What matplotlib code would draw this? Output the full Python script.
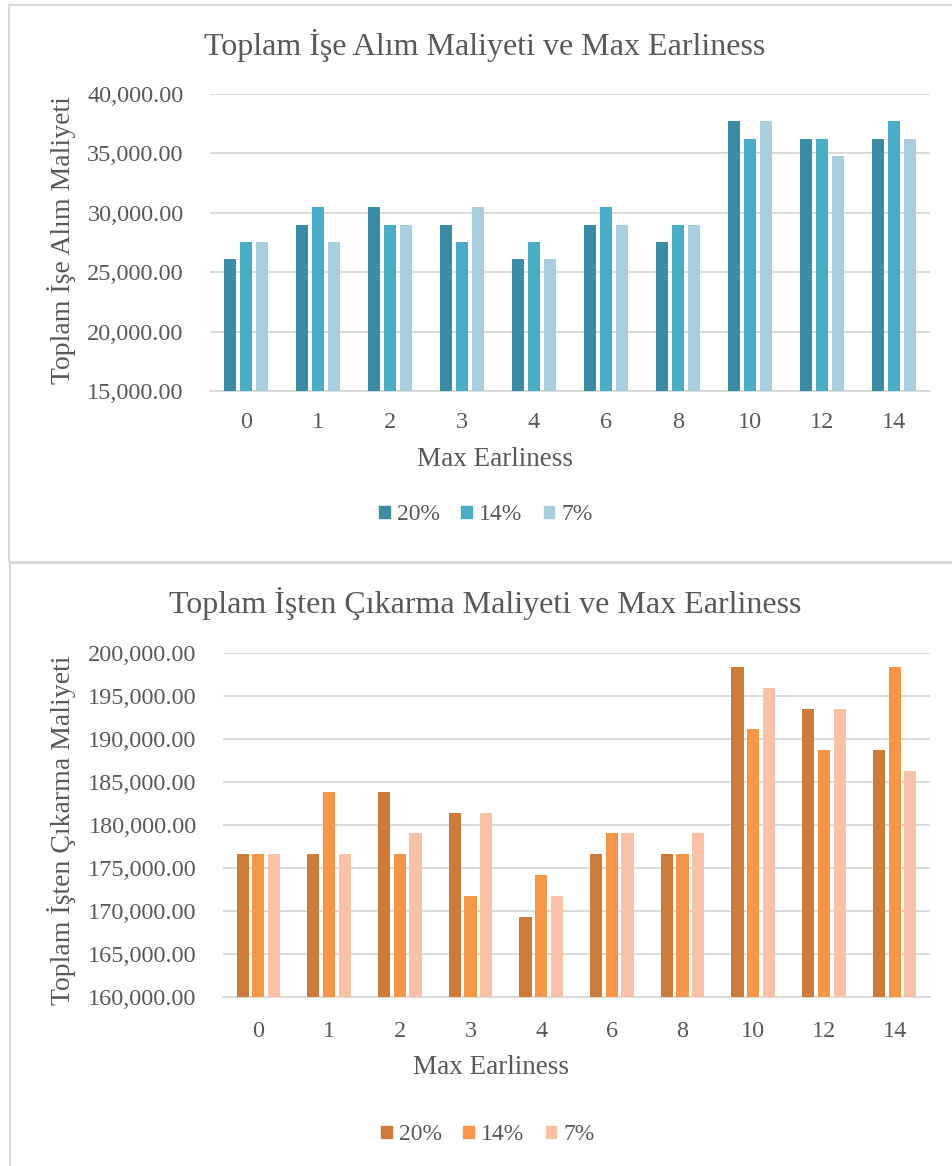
import matplotlib
matplotlib.use("Agg")
import matplotlib.pyplot as plt
import numpy as np
from matplotlib.patches import Rectangle, Patch
from matplotlib.ticker import FuncFormatter

plt.rcParams['font.family'] = ['Liberation Serif', 'DejaVu Serif']

# veriler
kategoriler = ["0", "1", "2", "3", "4", "6", "8", "10", "12", "14"]
seriler = ["20%", "14%", "7%"]

ise_alim_20 = [26100, 29000, 30450, 29000, 26100, 29000, 27550, 37700, 36250, 36250]
ise_alim_14 = [27550, 30450, 29000, 27550, 27550, 30450, 29000, 36250, 36250, 37700]
ise_alim_7 = [27550, 27550, 29000, 30450, 26100, 29000, 29000, 37700, 34800, 36250]

cikarma_20 = [176600, 176600, 183870, 181430, 169320, 176600, 176600, 198370, 193540, 188700]
cikarma_14 = [176600, 183870, 176600, 171760, 174160, 179040, 176600, 191110, 188700, 198370]
cikarma_7 = [176600, 176600, 179040, 181430, 171760, 179040, 179040, 195940, 193540, 186270]

mavi = ["#3B8BA4", "#4BACC6", "#A9CEDD"]
turuncu = ["#CD7B38", "#F79646", "#F9C2A6"]

W, H = 952, 1166
yazi = "#595959"
gri = "#D9D9D9"

fig = plt.figure(figsize=(W / 100, H / 100), dpi=100)


def fx(px):
    return px / W


def fy(py):
    return 1 - py / H


def eksen(sol, ust, sag, alt):
    return fig.add_axes([fx(sol), fy(alt), fx(sag - sol), (alt - ust) / H])


# panel çerçeveleri
fig.patches.append(Rectangle((fx(9), fy(562)), fx(960), (562 - 5) / H,
                             transform=fig.transFigure, fill=False,
                             edgecolor=gri, linewidth=1.5))
fig.patches.append(Rectangle((fx(10), fy(1180)), fx(960), (1180 - 563) / H,
                             transform=fig.transFigure, fill=False,
                             edgecolor=gri, linewidth=1.5))


def grafik(ax, degerler, renkler, ymin, ymax, adim, xpad):
    x = np.arange(len(kategoriler))
    for i, (d, r) in enumerate(zip(degerler, renkler)):
        ax.bar(x + (i - 1) * 0.222, np.array(d) - ymin, bottom=ymin, width=0.172,
               color=r, zorder=3)
    ax.set_xlim(-0.5, len(kategoriler) - 0.5)
    ax.set_ylim(ymin, ymax)
    ax.set_yticks(np.arange(ymin, ymax + 1, adim))
    ax.yaxis.set_major_formatter(FuncFormatter(lambda v, p: f"{v:,.2f}"))
    ax.set_xticks(x)
    ax.set_xticklabels(kategoriler)
    ax.grid(axis="y", color=gri, linewidth=1.3, zorder=0)
    for s in ["top", "right", "left"]:
        ax.spines[s].set_visible(False)
    ax.spines["bottom"].set_color(gri)
    ax.spines["bottom"].set_linewidth(1.3)
    ax.tick_params(length=0, labelsize=17.5, colors=yazi)
    ax.tick_params(axis="y", pad=19)
    ax.tick_params(axis="x", pad=xpad)


def lejant(renkler, x, y):
    fig.legend(handles=[Patch(color=c, label=s) for c, s in zip(renkler, seriler)],
               loc="center", bbox_to_anchor=(fx(x), fy(y)), ncol=3,
               frameon=False, fontsize=17, labelcolor=yazi, handlelength=0.45,
               handleheight=0.45, handletextpad=0.3, columnspacing=0.9)


# 1. grafik: işe alım
ax1 = eksen(210, 94, 930, 391)
grafik(ax1, [ise_alim_20, ise_alim_14, ise_alim_7], mavi, 15000, 40000, 5000, 15)
fig.text(fx(485), fy(45), "Toplam İşe Alım Maliyeti ve Max Earliness",
         ha="center", va="center", fontsize=23, color=yazi)
fig.text(fx(62), fy(240), "Toplam İşe Alım Maliyeti", rotation=90,
         ha="center", va="center", fontsize=20, color=yazi)
fig.text(fx(495), fy(460), "Max Earliness", ha="center", va="center",
         fontsize=19.5, color=yazi)
lejant(mavi, 486, 515)

# 2. grafik: işten çıkarma
ax2 = eksen(223, 653, 930, 997)
grafik(ax2, [cikarma_20, cikarma_14, cikarma_7], turuncu, 160000, 200000, 5000, 17.5)
fig.text(fx(485), fy(603), "Toplam İşten Çıkarma Maliyeti ve Max Earliness",
         ha="center", va="center", fontsize=23, color=yazi)
fig.text(fx(62), fy(830), "Toplam İşten Çıkarma Maliyeti", rotation=90,
         ha="center", va="center", fontsize=20, color=yazi)
fig.text(fx(491), fy(1067), "Max Earliness", ha="center", va="center",
         fontsize=19.5, color=yazi)
lejant(turuncu, 488, 1135)

fig.savefig("out.png", dpi=100)
